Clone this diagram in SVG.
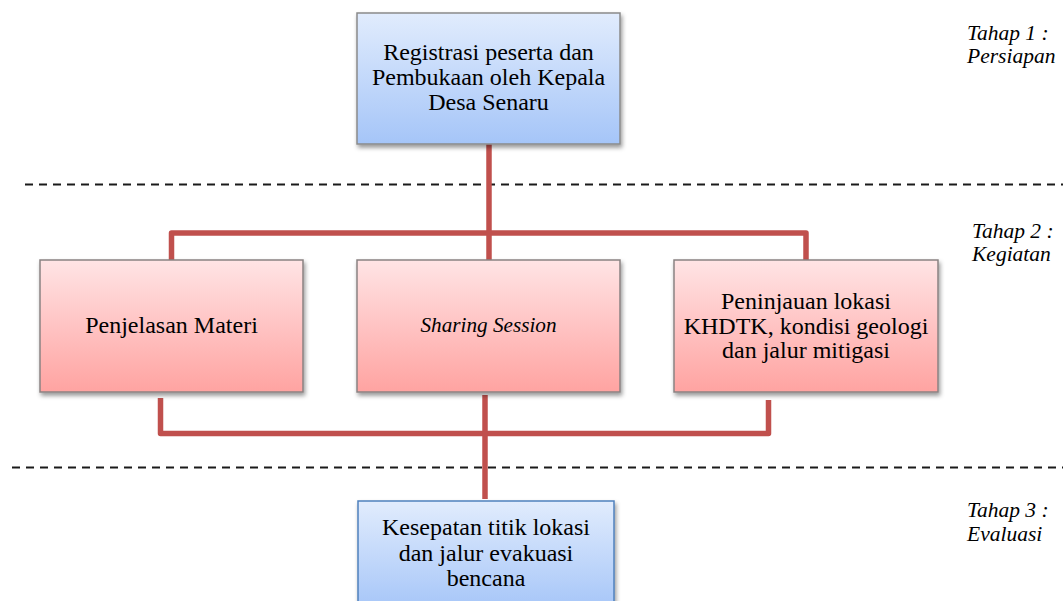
<svg xmlns="http://www.w3.org/2000/svg" width="1063" height="601" viewBox="0 0 1063 601">
  <defs>
    <linearGradient id="gBlue" x1="0" y1="0" x2="0" y2="1">
      <stop offset="0" stop-color="#e1ecfd"/>
      <stop offset="1" stop-color="#a5c5f8"/>
    </linearGradient>
    <linearGradient id="gPink" x1="0" y1="0" x2="0" y2="1">
      <stop offset="0" stop-color="#ffe4e5"/>
      <stop offset="1" stop-color="#ffa3a1"/>
    </linearGradient>
    <filter id="shadow" x="-10%" y="-10%" width="125%" height="130%">
      <feDropShadow dx="1.5" dy="3" stdDeviation="2" flood-color="#000" flood-opacity="0.4"/>
    </filter>
  </defs>
  <style>
    .box { stroke-width: 1.5; filter: url(#shadow); }
    .blue { fill: url(#gBlue); }
    .pink { fill: url(#gPink); stroke: #8a8282; }
    .t { font-family: "Liberation Serif", "Times New Roman", serif; font-size: 24px; fill: #000; text-anchor: middle; }
    .it { font-family: "Liberation Serif", "Times New Roman", serif; font-size: 21.5px; font-style: italic; fill: #000; }
    .conn { fill: none; stroke: #c0504d; stroke-width: 5.5; stroke-linejoin: round; }
    .dash { fill: none; stroke: #1a1a1a; stroke-width: 2; stroke-dasharray: 8 6; }
  </style>
  <rect width="1063" height="601" fill="#ffffff"/>

  <g id="separators">
    <line class="dash" x1="25" y1="184.5" x2="1063" y2="184.5"/>
    <line class="dash" x1="12" y1="467.5" x2="1063" y2="467.5"/>
  </g>

  <g id="connectors">
    <path class="conn" d="M489,144 V260"/>
    <path class="conn" d="M171.5,260 V233 H806 V260"/>
    <path class="conn" d="M160.5,398 V433.5 H768.5 V400"/>
    <path class="conn" d="M485,395 V499"/>
  </g>

  <g id="node-registrasi">
    <rect class="box blue" x="357" y="13" width="263" height="131" stroke="#8a8a8a"/>
    <text class="t" x="488.5" y="60">Registrasi peserta dan</text>
    <text class="t" x="488.5" y="85">Pembukaan oleh Kepala</text>
    <text class="t" x="488.5" y="110">Desa Senaru</text>
  </g>

  <g id="node-penjelasan">
    <rect class="box pink" x="40" y="260" width="263" height="132"/>
    <text class="t" x="171.5" y="333">Penjelasan Materi</text>
  </g>

  <g id="node-sharing">
    <rect class="box pink" x="357" y="260" width="263" height="132"/>
    <text class="t" x="488.5" y="332" style="font-style:italic;font-size:21.2px">Sharing Session</text>
  </g>

  <g id="node-peninjauan">
    <rect class="box pink" x="674" y="260" width="264" height="132"/>
    <text class="t" x="806" y="309">Peninjauan lokasi</text>
    <text class="t" x="806" y="334">KHDTK, kondisi geologi</text>
    <text class="t" x="806" y="358">dan jalur mitigasi</text>
  </g>

  <g id="node-kesepatan">
    <rect class="box blue" x="358" y="501" width="256" height="110" stroke="#4f81bd"/>
    <text class="t" x="486" y="535">Kesepatan titik lokasi</text>
    <text class="t" x="486" y="561">dan jalur evakuasi</text>
    <text class="t" x="486" y="586">bencana</text>
  </g>

  <g id="stage-labels">
    <text class="it" x="967" y="40">Tahap 1 :</text>
    <text class="it" x="967" y="63">Persiapan</text>
    <text class="it" x="972" y="238">Tahap 2 :</text>
    <text class="it" x="972" y="261">Kegiatan</text>
    <text class="it" x="967" y="517">Tahap 3 :</text>
    <text class="it" x="967" y="541">Evaluasi</text>
  </g>
</svg>
